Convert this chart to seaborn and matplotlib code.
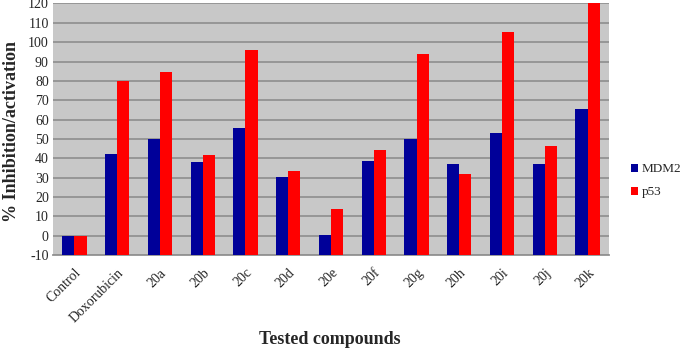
import matplotlib
matplotlib.use("Agg")
import matplotlib.pyplot as plt
import seaborn as sns
import pandas as pd

categories = ["Control", "Doxorubicin", "20a", "20b", "20c", "20d", "20e",
              "20f", "20g", "20h", "20i", "20j", "20k"]
mdm2 = [0, 42.2, 49.8, 37.9, 55.8, 30.3, 0.2, 38.4, 49.8, 36.9, 52.9, 37.2, 65.5]
p53 = [0, 80.1, 84.4, 41.6, 95.8, 33.6, 14.0, 44.4, 93.7, 31.9, 105.3, 46.5, 120.0]
series = ["MDM2", "p53"]
yticks = list(range(-10, 121, 10))
base = -10

df = pd.DataFrame({
    "compound": categories * 2,
    "value": mdm2 + p53,
    "series": [series[0]] * len(categories) + [series[1]] * len(categories),
})

sns.set_style("white")
plt.rcParams["font.family"] = "serif"
plt.rcParams["font.serif"] = ["Liberation Serif", "DejaVu Serif"]
plt.rcParams["axes.unicode_minus"] = False

fig = plt.figure(figsize=(6.85, 3.49), dpi=100)
ax = fig.add_axes([0.0774, 0.269, 0.889 - 0.0774, 0.99 - 0.269])
ax.set_facecolor("#C8C8C8")

sns.barplot(data=df, x="compound", y="value", hue="series",
            palette={"MDM2": "#000099", "p53": "#FF0000"},
            width=0.57, ax=ax, saturation=1, legend=True, zorder=3)

# Excel-style: bars rise from the axis floor (-10)
for p in ax.patches:
    h = p.get_height()
    if h != h:
        continue
    p.set_y(base)
    p.set_height(h - base)
    p.set_linewidth(0)

ax.set_ylim(-10, 120)
ax.set_yticks(yticks)
ax.yaxis.grid(True, color="#929292", linewidth=1.3, zorder=0)
ax.set_axisbelow(True)
for s in ["top", "right", "left"]:
    ax.spines[s].set_visible(False)
ax.spines["bottom"].set_color("#929292")
ax.spines["bottom"].set_linewidth(1.3)

ax.tick_params(axis="y", labelsize=10, length=0, pad=3)
ax.tick_params(axis="x", labelsize=10, length=0, pad=8)
plt.setp(ax.get_xticklabels(), rotation=45, ha="right", rotation_mode="anchor",
         family="Liberation Serif")
plt.setp(ax.get_yticklabels(), family="Liberation Serif")

ax.set_xlabel("Tested compounds", fontsize=13, fontweight="bold", va="center",
              family="Liberation Serif")
ax.xaxis.set_label_coords(0.498, -0.337)
ax.set_ylabel("% Inhibition/activation", fontsize=13, fontweight="bold", va="center",
              family="Liberation Serif")
ax.yaxis.set_label_coords(-0.074, 0.493)

leg = ax.legend(loc="center left", bbox_to_anchor=(1.028, 0.295), frameon=False,
                handlelength=0.55, handleheight=0.55, handletextpad=0.25,
                labelspacing=0.85, borderpad=0,
                prop={"family": "Liberation Serif", "size": 9.5})

fig.savefig("out.png", dpi=100)
